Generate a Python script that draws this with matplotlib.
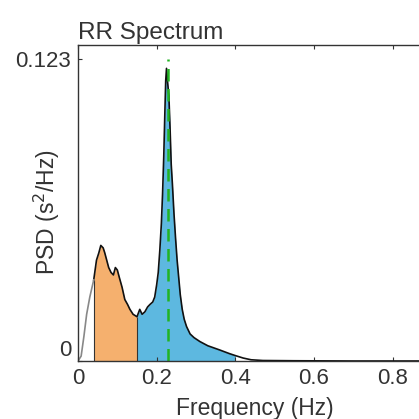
import matplotlib
matplotlib.use('Agg')
from matplotlib import pyplot as plt
from matplotlib import transforms
import numpy as np

plt.rcParams['font.family'] = ['Liberation Sans', 'DejaVu Sans']

# PSD
FREQ = [
    0.000, 0.008, 0.015, 0.022, 0.030, 0.040, 0.047, 0.053, 0.058, 0.064,
    0.068, 0.073, 0.078, 0.084, 0.090, 0.095, 0.100, 0.105, 0.112, 0.119,
    0.126, 0.132, 0.140, 0.150, 0.157, 0.163, 0.170, 0.177, 0.183, 0.190,
    0.195, 0.200, 0.204, 0.208, 0.212, 0.215, 0.218, 0.221, 0.223, 0.225,
    0.228, 0.231, 0.234, 0.237, 0.240, 0.244, 0.248, 0.252, 0.256, 0.260,
    0.265, 0.270, 0.276, 0.285, 0.295, 0.310, 0.330, 0.360, 0.385, 0.400,
    0.420, 0.440, 0.470, 0.550, 0.700, 0.900,
]
PSD = [
    0.000, 0.002, 0.010, 0.019, 0.026, 0.033, 0.041, 0.044, 0.047, 0.046,
    0.044, 0.041, 0.038, 0.036, 0.035, 0.038, 0.037, 0.034, 0.030, 0.025,
    0.023, 0.021, 0.019, 0.018, 0.021, 0.019, 0.020, 0.022, 0.023, 0.024,
    0.026, 0.031, 0.036, 0.045, 0.056, 0.068, 0.083, 0.102, 0.114, 0.119,
    0.113, 0.108, 0.095, 0.080, 0.072, 0.060, 0.050, 0.041, 0.034, 0.027,
    0.021, 0.017, 0.014, 0.011, 0.0095, 0.0079, 0.0062, 0.0045, 0.003, 0.0022,
    0.0012, 0.0005, 0.0002, 0.0001, 0.0, 0.0,
]
VLF_BAND = (0.0, 0.04)
LF_BAND = (0.04, 0.15)
HF_BAND = (0.15, 0.40)
PEAK_FREQ = 0.228
PSD_MAX = 0.123
X_TICKS = [0, 0.2, 0.4, 0.6, 0.8]
X_TICK_LABELS = ['0', '0.2', '0.4', '0.6', '0.8']
Y_TICKS = [0, PSD_MAX]
Y_TICK_LABELS = ['0', '0.123']

freq = np.array(FREQ)
psd = np.array(PSD)
txt = '#333333'

fig = plt.figure(figsize=(4.19, 4.19), dpi=100)
ax = fig.add_axes([78 / 419, 58 / 419, 354 / 419, 316 / 419])

lf = (freq >= LF_BAND[0]) & (freq <= LF_BAND[1])
hf = (freq >= HF_BAND[0]) & (freq <= HF_BAND[1])
ax.fill_between(freq, psd, 0, where=lf, color='#F5B06E', linewidth=0)
ax.fill_between(freq, psd, 0, where=hf, color='#5DB8E0', linewidth=0)
edges = [LF_BAND[0], LF_BAND[1]]
ax.vlines(edges, 0, np.interp(edges, freq, psd), color='#333333', linewidth=0.8)

vlf = freq < VLF_BAND[1]
ax.plot(freq[~vlf], psd[~vlf], color='#111111', linewidth=1.2)
ax.plot(freq[freq <= VLF_BAND[1]], psd[freq <= VLF_BAND[1]],
        color='#888888', linewidth=1.2)

ax.plot([PEAK_FREQ, PEAK_FREQ], [0, PSD_MAX], color='#22B422',
        linewidth=1.8, linestyle=(0, (5, 3)))

ax.set_xlim(0, 0.9)
ax.set_ylim(0, 0.1285)
ax.set_xticks(X_TICKS)
ax.set_xticklabels(X_TICK_LABELS)
ax.set_yticks(Y_TICKS)
ax.set_yticklabels(Y_TICK_LABELS)
ax.tick_params(direction='in', length=3, labelsize=16, colors=txt,
               top=True, right=True, pad=5)
for s in ax.spines.values():
    s.set_color('#333333')
    s.set_linewidth(1.0)

# the 0 label sits a bit above the axis in the reference
lab0 = ax.get_yticklabels()[0]
lab0.set_transform(lab0.get_transform() +
                   transforms.ScaledTranslation(0, 13 / 100, fig.dpi_scale_trans))

ax.set_title('RR Spectrum', loc='left', fontsize=17.5, color=txt, pad=4)
ax.set_xlabel('Frequency (Hz)', fontsize=16.5, color=txt, labelpad=6)
ax.set_ylabel('PSD (s$^2$/Hz)', fontsize=16.5, color=txt)
ax.yaxis.set_label_coords(-16 / 354, 0.47)

fig.savefig('out.png', dpi=100)
